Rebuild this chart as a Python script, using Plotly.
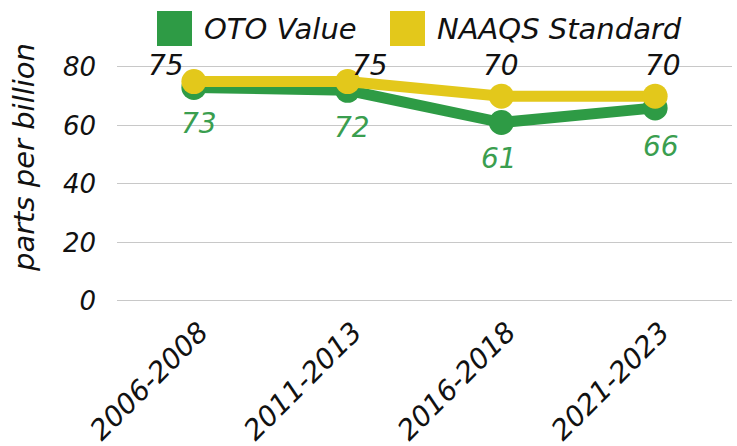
import plotly.graph_objects as go

categories = ["2006-2008", "2011-2013", "2016-2018", "2021-2023"]
oto_values = [73, 72, 61, 66]
naaqs_values = [75, 75, 70, 70]
y_ticks = [0, 20, 40, 60, 80]
series_names = ["OTO Value", "NAAQS Standard"]
axis_title = "parts per billion"

GREEN = "#2e9b45"
YELLOW = "#e3c81b"
LABEL_GREEN = "#3a9e4f"
INK = "#111111"
FONT = "DejaVu Sans"

fig = go.Figure()
for vals, name, col in [(oto_values, series_names[0], GREEN),
                        (naaqs_values, series_names[1], YELLOW)]:
    fig.add_trace(go.Scatter(
        x=categories, y=vals, name=name, mode="lines+markers",
        line=dict(color=col, width=11), marker=dict(color=col, size=25),
        cliponaxis=False, showlegend=False,
    ))

# data labels (pixel offsets from each point)
oto_offsets = [(5, -36), (4, -37), (-2, -36), (6, -39)]
naaqs_offsets = [(-28, 16), (22, 16), (0, 31), (8, 31)]
for cat, v, (dx, dy) in zip(categories, oto_values, oto_offsets):
    fig.add_annotation(x=cat, y=v, text=str(v), showarrow=False,
                       xshift=dx, yshift=dy,
                       font=dict(size=28, family=FONT, style="italic", color=LABEL_GREEN))
for cat, v, (dx, dy) in zip(categories, naaqs_values, naaqs_offsets):
    fig.add_annotation(x=cat, y=v, text=str(v), showarrow=False,
                       xshift=dx, yshift=dy,
                       font=dict(size=28, family=FONT, style="italic", color=INK))

# plot-area geometry in page pixels
plot_l, plot_r, plot_t, plot_b = 117, 732, 64, 303
W, H = plot_r - plot_l, plot_b - plot_t
def px(x):
    return (x - plot_l) / W
def py(y):
    return (plot_b - y) / H

# legend drawn as swatches + labels above the plot area
legend_items = [(series_names[0], GREEN, 157), (series_names[1], YELLOW, 390)]
for name, col, x0 in legend_items:
    fig.add_shape(type="rect", xref="paper", yref="paper",
                  x0=px(x0), x1=px(x0 + 35), y0=py(46), y1=py(11),
                  fillcolor=col, line=dict(width=0))
    fig.add_annotation(xref="paper", yref="paper", x=px(x0 + 45), y=py(29),
                       xanchor="left", yanchor="middle", showarrow=False,
                       text=name, font=dict(size=29, family=FONT, style="italic",
                                            color=INK))

# y-axis title
fig.add_annotation(xref="paper", yref="paper", x=px(24), y=py(158),
                   xanchor="center", yanchor="middle", showarrow=False,
                   textangle=-90, text=axis_title,
                   font=dict(size=29, family=FONT, style="italic", color=INK))

fig.update_layout(
    width=737, height=446,
    margin=dict(l=plot_l, r=737 - plot_r, t=plot_t, b=446 - plot_b),
    paper_bgcolor="white", plot_bgcolor="white",
    font=dict(family=FONT, color=INK),
    showlegend=False,
    xaxis=dict(type="category", range=[-0.5, 3.5], tickangle=-45, automargin=False,
               tickfont=dict(size=28, family=FONT, style="italic", color=INK),
               ticklabelshift=6, ticklabelstandoff=6,
               showgrid=False, zeroline=False, showline=False, ticks=""),
    yaxis=dict(range=[-0.7, 81], tickvals=y_ticks, automargin=False,
               tickfont=dict(size=26, family=FONT, style="italic", color=INK),
               gridcolor="#c8c8c8", gridwidth=1, zeroline=False, showline=False,
               ticklabelstandoff=20),
)
fig.write_html("out.html", config={"displayModeBar": False},
               post_script="document.body.style.margin='0';document.body.style.overflow='hidden';")
